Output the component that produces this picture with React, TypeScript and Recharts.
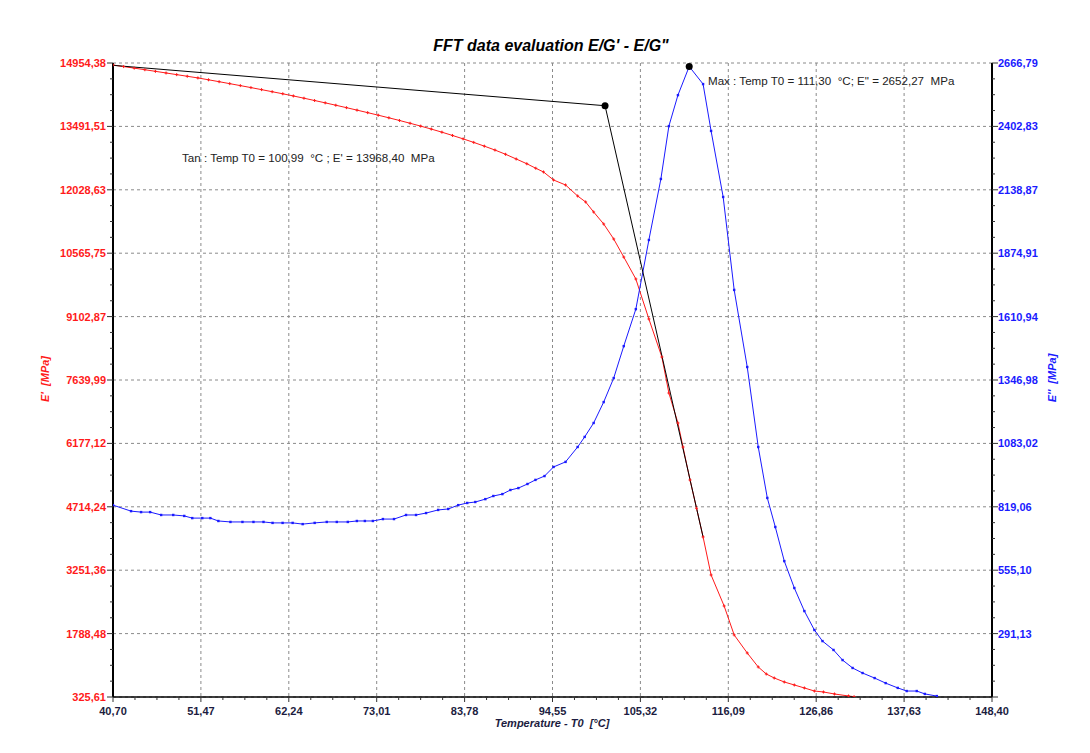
import React from 'react';
import { LineChart, Line, XAxis, YAxis, CartesianGrid, ReferenceDot } from 'recharts';

// E' (storage modulus) – red, left axis
const redTemps = [
  40.7, 42.0, 43.3, 44.6, 45.9, 47.2, 48.5, 49.8, 51.1, 52.4, 53.7, 55.0, 56.3, 57.6, 58.9, 60.2, 61.5,
  62.8, 64.1, 65.4, 66.7, 68.0, 69.3, 70.6, 71.9, 73.2, 74.5, 75.8, 77.1, 78.4, 79.7, 81.0, 82.3, 83.6,
  84.9, 86.2, 87.5, 88.8, 90.1, 91.4, 92.5, 93.45, 94.68, 96.15, 97.63, 98.61, 99.59, 100.82, 102.05,
  103.28, 104.76, 106.36, 107.95, 108.81, 109.92, 110.54, 111.4, 112.2, 113.0, 113.98, 115.58, 116.81,
  118.41, 119.76, 120.74, 121.72, 122.95, 124.18, 125.41, 126.64, 127.75, 129.1, 130.82, 131.5,
];
const redValues = [
  14908, 14872, 14836, 14799, 14762, 14724, 14686, 14648, 14610, 14567, 14523, 14478, 14433, 14387, 14340, 14292, 14244,
  14194, 14142, 14089, 14035, 13980, 13924, 13867, 13809, 13750, 13690, 13628, 13564, 13498, 13430, 13358, 13282, 13204,
  13122, 13036, 12946, 12848, 12740, 12630, 12526, 12440, 12255, 12140, 11886, 11748, 11517, 11240, 10894,
  10478, 9971, 9048, 8171, 7340, 6648, 6094, 5333, 4680, 4018, 3141, 2426, 1757,
  1341, 1018, 857, 764, 672, 603, 534, 464, 441, 395, 349, 333,
];

// E'' (loss modulus) – blue, right axis
const blueTemps = [
  40.7, 42.91, 44.14, 45.25, 46.6, 48.08, 49.43, 50.41, 51.64, 52.63, 53.61, 55.09, 56.56, 57.91, 59.14,
  60.25, 61.48, 62.71, 63.94, 65.41, 66.89, 68.12, 69.47, 70.58, 71.56, 72.54, 73.77, 75.13, 76.6, 77.83,
  79.06, 80.54, 81.77, 83.0, 84.1, 85.09, 86.32, 87.3, 88.41, 89.39, 90.37, 91.48, 92.46, 93.57, 94.68,
  96.15, 97.63, 98.49, 99.59, 100.82, 102.05, 103.28, 104.76, 106.36, 107.83, 108.81, 109.92, 111.3,
  113.0, 113.98, 115.46, 116.81, 118.41, 119.76, 120.87, 121.85, 122.95, 124.18, 125.41, 126.64, 127.63,
  128.98, 130.09, 131.32, 132.54, 134.02, 135.37, 136.85, 137.95, 139.18, 140.17, 141.64,
];
const blueValues = [
  826, 801, 797, 797, 785, 785, 781, 772, 772, 772, 760, 756, 756, 756, 756,
  752, 752, 752, 747, 752, 756, 756, 756, 760, 760, 760, 768, 768, 785, 785,
  793, 806, 810, 826, 835, 839, 851, 864, 872, 889, 897, 914, 931, 947, 985,
  1006, 1068, 1110, 1168, 1255, 1355, 1488, 1642, 1930, 2184, 2404, 2533, 2652.27,
  2579, 2384, 2109, 1722, 1401, 1068, 856, 735, 593, 481, 385, 306, 260,
  223, 181, 148, 127, 106, 85, 65, 52, 52, 40, 31,
];

// tangent construction (black)
const tanTemps = [40.7, 100.99, 113.0];
const tanValues = [14900, 13968.4, 4018];

const maxPoint = { t: 111.3, v: 2652.27 };

const xTicks = [40.7, 51.47, 62.24, 73.01, 83.78, 94.55, 105.32, 116.09, 126.86, 137.63, 148.4];
const leftTicks = [325.61, 1788.48, 3251.36, 4714.24, 6177.12, 7639.99, 9102.87, 10565.75, 12028.63, 13491.51, 14954.38];
const rightTicks = [27.17, 291.13, 555.1, 819.06, 1083.02, 1346.98, 1610.94, 1874.91, 2138.87, 2402.83, 2666.79];

const zip = (ts: number[], vs: number[]) => ts.map((t, i) => ({ t, v: vs[i] }));
const redData = zip(redTemps, redValues);
const blueData = zip(blueTemps, blueValues);
const tanData = zip(tanTemps, tanValues);

// majors plus 3 minor ticks per interval
const withMinors = (major: number[]) => {
  const out: number[] = [];
  major.forEach((m, i) => {
    out.push(m);
    if (i < major.length - 1) {
      const step = (major[i + 1] - m) / 4;
      for (let k = 1; k < 4; k++) out.push(m + step * k);
    }
  });
  return out;
};

const fmt = (v: number) => v.toFixed(2).replace('.', ',');
const isMajor = (list: number[], v: number) => list.some(m => Math.abs(m - v) < 1e-6);

const FONT = '"Liberation Sans", Arial, sans-serif';
const RED = '#ff1a1a';
const BLUE = '#1a1aff';

const LeftTick = (props: any) => {
  const { x, y, payload } = props;
  const major = isMajor(leftTicks, payload.value);
  return (
    <g>
      <line x1={x - (major ? 6 : 3)} x2={x} y1={y} y2={y} stroke="#333" />
      {major && (
        <text x={x - 7} y={y + 4} textAnchor="end" fill={RED} fontSize={11} fontWeight="bold" fontFamily={FONT}>
          {fmt(payload.value)}
        </text>
      )}
    </g>
  );
};

const RightTick = (props: any) => {
  const { x, y, payload } = props;
  const major = isMajor(rightTicks, payload.value);
  const labelled = major && payload.value > 100;
  return (
    <g>
      <line x1={x} x2={x + (major ? 6 : 3)} y1={y} y2={y} stroke="#333" />
      {labelled && (
        <text x={x + 6} y={y + 4} textAnchor="start" fill={BLUE} fontSize={11} fontWeight="bold" fontFamily={FONT}>
          {fmt(payload.value)}
        </text>
      )}
    </g>
  );
};

const BottomTick = (props: any) => {
  const { x, y, payload } = props;
  const major = isMajor(xTicks, payload.value);
  return (
    <g>
      <line x1={x} x2={x} y1={y} y2={y + (major ? 5 : 3)} stroke="#333" />
      {major && (
        <text x={x} y={y + 18} textAnchor="middle" fill="#1c1c40" fontSize={11} fontWeight="bold" fontFamily={FONT}>
          {fmt(payload.value)}
        </text>
      )}
    </g>
  );
};

const redDot = (p: any) => (
  <g key={`r${p.index}`}>
    <line x1={p.cx - 1.5} x2={p.cx + 1.5} y1={p.cy} y2={p.cy} stroke={RED} />
    <line x1={p.cx} x2={p.cx} y1={p.cy - 1.5} y2={p.cy + 1.5} stroke={RED} />
  </g>
);

const blueDot = (p: any) => <rect key={`b${p.index}`} x={p.cx - 1.2} y={p.cy - 1.2} width={2.4} height={2.4} fill={BLUE} />;

const tanDot = (p: any) =>
  p.index === 1 ? <circle key={`t${p.index}`} cx={p.cx} cy={p.cy} r={3.5} fill="#000" /> : <g key={`t${p.index}`} />;

const text = (style: React.CSSProperties, content: string) => (
  <div style={{ position: 'absolute', whiteSpace: 'pre', fontFamily: FONT, lineHeight: 1, ...style }}>{content}</div>
);

export default function App() {
  return (
    <div style={{ position: 'absolute', left: 0, top: 0, width: 1090, height: 753, background: '#fff' }}>
      <LineChart width={1090} height={753} margin={{ top: 63, right: 38, bottom: 26, left: 53 }}>
        <CartesianGrid
          yAxisId="left"
          stroke="#8a8a8a"
          strokeDasharray="3 3"
          horizontalValues={leftTicks}
          verticalValues={xTicks}
        />
        <XAxis
          type="number"
          dataKey="t"
          domain={[40.7, 148.4]}
          allowDataOverflow
          ticks={withMinors(xTicks)}
          interval={0}
          tickSize={0}
          tickMargin={0}
          tickLine={false}
          tick={<BottomTick />}
          height={30}
          axisLine={{ stroke: '#000', strokeWidth: 1.5 }}
        />
        <YAxis
          yAxisId="left"
          type="number"
          domain={[325.61, 14954.38]}
          allowDataOverflow
          ticks={withMinors(leftTicks)}
          interval={0}
          tickSize={0}
          tickMargin={0}
          tickLine={false}
          tick={<LeftTick />}
          width={60}
          axisLine={{ stroke: '#000', strokeWidth: 2 }}
        />
        <YAxis
          yAxisId="right"
          orientation="right"
          type="number"
          domain={[27.17, 2666.79]}
          allowDataOverflow
          ticks={withMinors(rightTicks)}
          interval={0}
          tickSize={0}
          tickMargin={0}
          tickLine={false}
          tick={<RightTick />}
          width={60}
          axisLine={{ stroke: '#000', strokeWidth: 2 }}
        />
        <Line
          yAxisId="left"
          data={redData}
          dataKey="v"
          type="linear"
          stroke={RED}
          strokeWidth={1}
          dot={redDot}
          activeDot={false}
          isAnimationActive={false}
        />
        <Line
          yAxisId="right"
          data={blueData}
          dataKey="v"
          type="linear"
          stroke={BLUE}
          strokeWidth={1}
          dot={blueDot}
          activeDot={false}
          isAnimationActive={false}
        />
        <Line
          yAxisId="left"
          data={tanData}
          dataKey="v"
          type="linear"
          stroke="#000"
          strokeWidth={1}
          dot={tanDot}
          activeDot={false}
          isAnimationActive={false}
        />
        <ReferenceDot yAxisId="right" x={maxPoint.t} y={maxPoint.v} r={3.5} fill="#000" stroke="none" />
      </LineChart>

      {text({ left: 0, width: 1102, top: 38, textAlign: 'center', fontSize: 16, fontWeight: 'bold', fontStyle: 'italic' }, 'FFT data evaluation E/G\' - E/G"')}
      {text({ left: 0, width: 1104, top: 718, textAlign: 'center', fontSize: 11, fontWeight: 'bold', fontStyle: 'italic', color: '#1c1c40' }, 'Temperature - T0  [°C]')}
      {text({ left: 45, top: 379, fontSize: 11, fontWeight: 'bold', fontStyle: 'italic', color: RED, transform: 'translate(-50%, -50%) rotate(-90deg)' }, "E'  [MPa]")}
      {text({ left: 1052, top: 378, fontSize: 11, fontWeight: 'bold', fontStyle: 'italic', color: BLUE, transform: 'translate(-50%, -50%) rotate(-90deg)' }, "E''  [MPa]")}
      {text({ left: 182, top: 152, fontSize: 11.6, color: '#222' }, "Tan : Temp T0 = 100,99  °C ; E' = 13968,40  MPa")}
      {text({ left: 708, top: 75, fontSize: 11.6, color: '#222' }, 'Max : Temp T0 = 111,30  °C; E" = 2652,27  MPa')}
    </div>
  );
}
